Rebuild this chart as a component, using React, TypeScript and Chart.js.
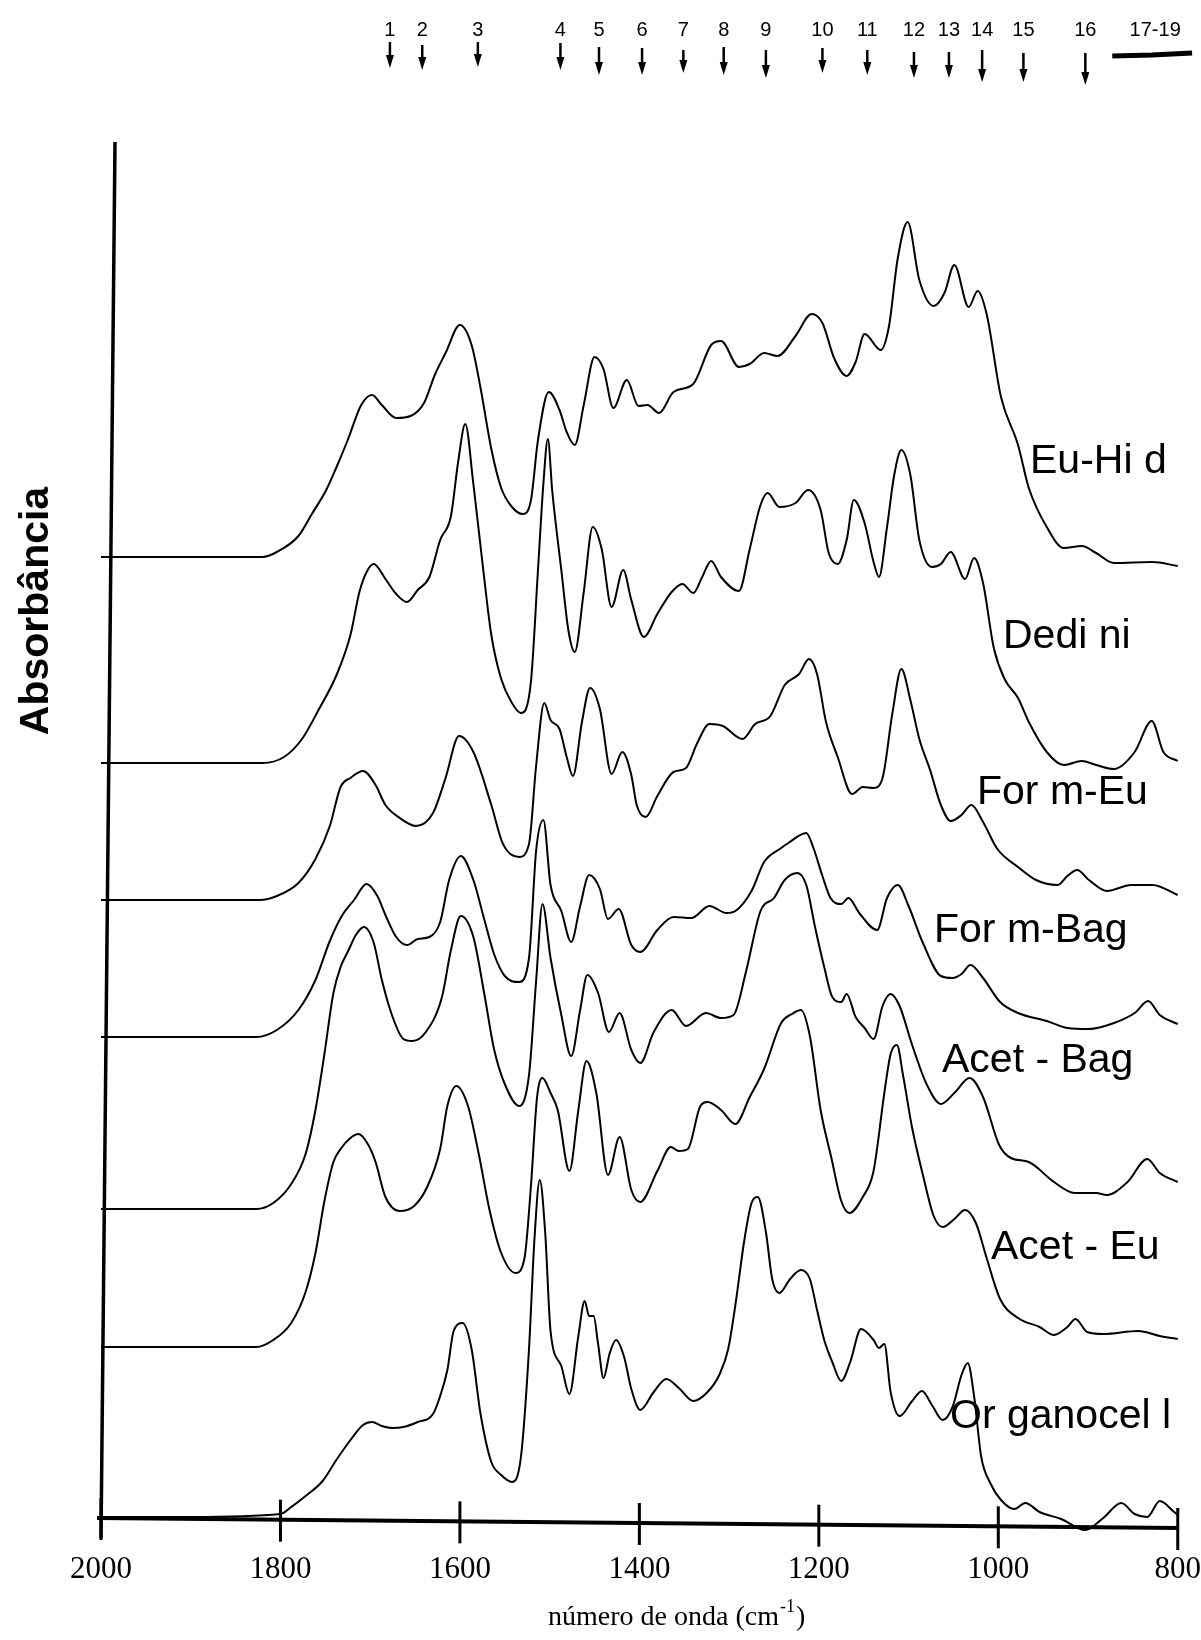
import React, { useEffect, useRef } from 'react';
import { Chart, registerables } from 'chart.js';

Chart.register(...registerables);

type Pt = [number, number];

// ---------- DATA ----------
const seriesNames = ['Eu-Hi d', 'Dedi ni', 'For m-Eu', 'For m-Bag', 'Acet - Bag', 'Acet - Eu', 'Or ganocel l'];
// vertical offsets of each stacked spectrum (absorbance units)
const seriesOffsets = [9.6, 7.54, 6.17, 4.8, 3.08, 1.7, 0];

const euHid: Pt[] = [[2000,0],[1900,0],[1820,0],[1804,0.05],[1780,0.21],[1765,0.43],[1749,0.67],[1737,0.91],[1725,1.17],[1710,1.52],[1698,1.62],[1687,1.52],[1671,1.39],[1655,1.41],[1640,1.54],[1628,1.82],[1616,2.04],[1600,2.32],[1587,2.12],[1577,1.69],[1565,1.08],[1554,0.69],[1542,0.5],[1530,0.43],[1521,0.56],[1513,1.17],[1501,1.65],[1489,1.47],[1481,1.25],[1472,1.12],[1462,1.52],[1450,2.0],[1440,1.88],[1429,1.49],[1414,1.77],[1401,1.51],[1391,1.52],[1378,1.44],[1362,1.65],[1340,1.73],[1320,2.12],[1309,2.16],[1289,1.9],[1277,1.93],[1261,2.04],[1246,2.01],[1226,2.21],[1208,2.43],[1196,2.34],[1183,1.99],[1169,1.81],[1159,1.95],[1149,2.23],[1131,2.07],[1122,2.3],[1112,2.99],[1101,3.35],[1088,2.77],[1072,2.51],[1060,2.64],[1049,2.92],[1033,2.5],[1023,2.66],[1013,2.43],[997,1.6],[978,1.12],[966,0.69],[946,0.3],[927,0.09],[907,0.11],[891,0.04],[871,-0.06],[828,-0.05],[800,-0.09]];

const dedini: Pt[] = [[2000,0],[1900,0],[1820,0],[1796,0.06],[1776,0.24],[1757,0.54],[1737,0.89],[1722,1.28],[1712,1.71],[1704,1.91],[1696,1.99],[1683,1.84],[1671,1.69],[1659,1.61],[1647,1.73],[1634,1.86],[1622,2.23],[1610,2.47],[1602,3.01],[1594,3.39],[1585,2.79],[1575,2.01],[1565,1.28],[1554,0.84],[1542,0.6],[1532,0.5],[1521,0.8],[1513,1.93],[1507,2.79],[1502,3.24],[1497,2.71],[1487,1.93],[1479,1.32],[1472,1.11],[1462,1.71],[1452,2.36],[1442,2.14],[1431,1.56],[1418,1.93],[1409,1.63],[1395,1.26],[1380,1.49],[1364,1.71],[1352,1.79],[1340,1.7],[1330,1.86],[1320,2.02],[1309,1.86],[1289,1.72],[1277,2.14],[1265,2.58],[1257,2.7],[1244,2.56],[1226,2.6],[1212,2.73],[1198,2.53],[1189,2.1],[1179,1.99],[1169,2.23],[1161,2.63],[1149,2.4],[1139,2.01],[1133,1.86],[1124,2.36],[1116,2.88],[1108,3.13],[1098,2.88],[1088,2.23],[1074,1.96],[1064,1.99],[1053,2.11],[1037,1.84],[1027,2.05],[1017,1.8],[1005,1.15],[993,0.84],[978,0.65],[966,0.41],[946,0.11],[927,-0.02],[907,0.02],[891,-0.02],[871,-0.06],[848,0.11],[829,0.42],[816,0.11],[800,0.02]];

const formEu: Pt[] = [[2000,0],[1900,0],[1823,0],[1804,0.04],[1780,0.17],[1761,0.41],[1745,0.74],[1733,1.13],[1722,1.22],[1708,1.29],[1694,1.15],[1683,0.95],[1667,0.82],[1649,0.74],[1630,0.87],[1616,1.22],[1601,1.64],[1585,1.48],[1565,0.95],[1552,0.56],[1534,0.43],[1523,0.56],[1515,1.35],[1506,1.97],[1499,1.8],[1489,1.71],[1481,1.43],[1474,1.24],[1464,1.78],[1455,2.12],[1444,1.91],[1431,1.26],[1419,1.48],[1409,1.25],[1403,0.95],[1393,0.83],[1380,1.04],[1362,1.28],[1348,1.32],[1336,1.56],[1322,1.76],[1307,1.74],[1285,1.61],[1271,1.76],[1254,1.84],[1238,2.15],[1222,2.26],[1211,2.41],[1202,2.26],[1192,1.78],[1179,1.43],[1163,1.06],[1151,1.13],[1139,1.12],[1129,1.22],[1118,1.87],[1108,2.31],[1098,2.0],[1088,1.61],[1076,1.3],[1064,0.95],[1053,0.79],[1041,0.85],[1030,0.95],[1017,0.78],[1001,0.51],[978,0.33],[958,0.2],[934,0.15],[923,0.24],[912,0.3],[899,0.2],[879,0.09],[852,0.15],[828,0.15],[800,0.05]];

const formBag: Pt[] = [[2000,0],[1900,0],[1827,0],[1804,0.07],[1780,0.27],[1761,0.57],[1745,0.96],[1731,1.22],[1718,1.37],[1704,1.53],[1692,1.41],[1683,1.22],[1671,1.0],[1659,0.92],[1647,0.98],[1634,1.0],[1622,1.15],[1612,1.57],[1599,1.81],[1585,1.57],[1573,1.18],[1562,0.83],[1550,0.61],[1534,0.55],[1523,0.79],[1515,1.87],[1507,2.17],[1499,1.52],[1487,1.26],[1476,0.95],[1466,1.31],[1456,1.62],[1444,1.48],[1435,1.18],[1423,1.28],[1409,0.92],[1399,0.85],[1380,1.07],[1362,1.2],[1342,1.19],[1322,1.31],[1303,1.24],[1293,1.26],[1275,1.46],[1261,1.75],[1242,1.89],[1234,1.94],[1214,2.04],[1206,1.89],[1196,1.61],[1187,1.39],[1175,1.33],[1167,1.39],[1155,1.24],[1135,1.07],[1124,1.39],[1112,1.52],[1100,1.31],[1084,0.94],[1064,0.61],[1051,0.59],[1041,0.63],[1031,0.72],[1017,0.59],[998,0.35],[978,0.24],[946,0.16],[923,0.09],[899,0.08],[871,0.14],[848,0.24],[833,0.36],[820,0.22],[800,0.13]];

const acetBag: Pt[] = [[2000,0],[1900,0],[1827,0],[1808,0.06],[1788,0.25],[1772,0.55],[1761,0.99],[1751,1.55],[1741,2.16],[1733,2.42],[1724,2.59],[1716,2.74],[1707,2.82],[1696,2.66],[1687,2.29],[1675,1.92],[1663,1.7],[1653,1.68],[1638,1.77],[1620,2.12],[1610,2.59],[1599,2.93],[1585,2.72],[1573,2.16],[1562,1.6],[1550,1.25],[1534,1.03],[1523,1.34],[1515,2.29],[1508,3.05],[1499,2.51],[1487,1.94],[1476,1.53],[1466,1.99],[1458,2.34],[1446,2.16],[1434,1.77],[1422,1.96],[1409,1.59],[1399,1.46],[1384,1.77],[1364,1.99],[1348,1.83],[1326,1.96],[1309,1.91],[1295,1.94],[1281,2.38],[1265,2.98],[1250,3.11],[1238,3.29],[1224,3.36],[1214,3.24],[1204,2.81],[1194,2.42],[1185,2.12],[1175,2.07],[1169,2.15],[1159,1.92],[1149,1.81],[1139,1.7],[1129,2.03],[1120,2.15],[1110,2.03],[1096,1.64],[1080,1.25],[1064,1.05],[1049,1.16],[1032,1.31],[1017,1.12],[999,0.64],[986,0.51],[966,0.47],[938,0.27],[915,0.16],[891,0.16],[879,0.14],[856,0.27],[834,0.5],[820,0.36],[800,0.27]];

const acetEu: Pt[] = [[2000,0],[1900,0],[1827,0],[1808,0.07],[1788,0.24],[1772,0.55],[1761,0.94],[1751,1.46],[1741,1.85],[1733,1.98],[1722,2.09],[1713,2.13],[1702,2.02],[1694,1.85],[1683,1.5],[1667,1.36],[1651,1.41],[1636,1.61],[1622,1.98],[1614,2.41],[1604,2.61],[1591,2.41],[1579,1.93],[1567,1.37],[1554,0.94],[1538,0.74],[1528,0.89],[1521,1.59],[1514,2.5],[1508,2.69],[1499,2.54],[1491,2.37],[1478,1.76],[1468,2.37],[1459,2.86],[1448,2.54],[1435,1.72],[1422,2.1],[1409,1.57],[1399,1.45],[1380,1.76],[1365,2.0],[1356,1.96],[1346,1.98],[1332,2.41],[1324,2.45],[1309,2.37],[1293,2.23],[1277,2.5],[1261,2.78],[1242,3.24],[1230,3.33],[1220,3.37],[1210,3.11],[1198,2.37],[1186,1.89],[1175,1.46],[1166,1.34],[1151,1.5],[1139,1.76],[1127,2.54],[1120,2.93],[1113,3.02],[1106,2.71],[1096,2.19],[1084,1.72],[1072,1.31],[1062,1.2],[1049,1.28],[1037,1.37],[1025,1.24],[1013,0.89],[998,0.48],[978,0.29],[954,0.2],[938,0.12],[923,0.2],[914,0.28],[901,0.15],[883,0.13],[844,0.16],[820,0.11],[800,0.08]];

const organocell: Pt[] = [[2000,0],[1900,0],[1800,0.03],[1788,0.1],[1772,0.21],[1753,0.36],[1737,0.58],[1722,0.77],[1708,0.92],[1698,0.95],[1687,0.91],[1675,0.89],[1663,0.9],[1647,0.95],[1630,1.03],[1622,1.21],[1614,1.47],[1607,1.86],[1597,1.94],[1587,1.68],[1577,1.03],[1565,0.55],[1554,0.42],[1542,0.35],[1532,0.6],[1523,1.68],[1517,2.77],[1511,3.37],[1505,2.85],[1499,1.86],[1487,1.51],[1478,1.23],[1468,1.81],[1461,2.16],[1456,2.01],[1451,2.01],[1446,1.73],[1440,1.39],[1433,1.64],[1426,1.77],[1417,1.6],[1409,1.28],[1399,1.07],[1384,1.25],[1370,1.38],[1356,1.29],[1340,1.16],[1324,1.25],[1311,1.42],[1301,1.68],[1293,2.12],[1283,2.77],[1275,3.14],[1268,3.2],[1259,2.85],[1252,2.38],[1244,2.24],[1232,2.38],[1220,2.47],[1210,2.38],[1202,2.07],[1194,1.77],[1185,1.55],[1175,1.36],[1165,1.55],[1153,1.88],[1139,1.77],[1133,1.69],[1127,1.73],[1120,1.25],[1110,1.01],[1096,1.16],[1085,1.26],[1074,1.12],[1062,0.97],[1051,1.1],[1041,1.42],[1034,1.54],[1027,1.21],[1019,0.6],[1009,0.34],[997,0.17],[982,0.08],[970,0.14],[954,0.05],[930,-0.02],[903,-0.13],[883,-0.01],[863,0.14],[848,0.03],[834,0.0],[820,0.16],[804,0.05],[800,0.02]];

const allSeries: Pt[][] = [euHid, dedini, formEu, formBag, acetBag, acetEu, organocell];

// x axis
const xMin = 800;
const xMax = 2000;
const xStep = 200;
const xTickValues = [2000, 1800, 1600, 1400, 1200, 1000, 800];

// band markers at the top (cm-1)
const bandPositions = [1678, 1642, 1580, 1488, 1445, 1397, 1351, 1306, 1259, 1196, 1146, 1094, 1055, 1018, 972, 903];
const bandLabels = ['1', '2', '3', '4', '5', '6', '7', '8', '9', '10', '11', '12', '13', '14', '15', '16'];
const bandRange = [873, 784];
const bandRangeLabel = '17-19';

// ---------- LAYOUT / STYLE ----------
const W = 1201;
const H = 1640;
const AREA_BOTTOM = 1517;
const Y_MAX = AREA_BOTTOM / 100;
const labelPlacement: Array<[number, number]> = [
  [1030, 473], [1003, 648], [977, 804], [934, 942], [942, 1072], [991, 1259], [950, 1428],
];
const arrowTop = [42, 45, 42, 43, 47, 48, 50, 47, 50, 48, 50, 52, 52, 50, 53, 53];
const arrowBottom = [68, 70, 67, 70, 75, 75, 73, 75, 78, 73, 75, 78, 78, 82, 82, 85];
const SANS = "'Liberation Sans', Arial, Helvetica, sans-serif";
const SERIF = "'Liberation Serif', 'Times New Roman', serif";

const axisValueAt = (w: number) => -0.01 - ((xMax - w) / (xMax - xMin)) * 0.1;

const decorPlugin = {
  id: 'decor',
  afterDatasetsDraw(chart: any) {
    const { ctx } = chart;
    const xs = chart.scales.x;
    const ys = chart.scales.y;
    const px = (w: number) => xs.getPixelForValue(w);
    const py = (v: number) => ys.getPixelForValue(v);
    ctx.save();
    ctx.strokeStyle = '#000';
    ctx.fillStyle = '#000';
    ctx.lineCap = 'butt';

    // x axis line
    ctx.lineWidth = 4;
    ctx.beginPath();
    ctx.moveTo(px(xMax) - 4, py(axisValueAt(xMax)));
    ctx.lineTo(px(xMin) + 1, py(axisValueAt(xMin)));
    ctx.stroke();
    // ticks crossing the axis
    ctx.lineWidth = 3;
    xTickValues.forEach((t) => {
      const x = px(t);
      const y = py(axisValueAt(t));
      ctx.beginPath();
      ctx.moveTo(x, y - 20);
      ctx.lineTo(x, y + 22);
      ctx.stroke();
    });
    // y axis line (slightly tilted like the scan)
    ctx.lineWidth = 3.5;
    ctx.beginPath();
    ctx.moveTo(px(xMax), py(-0.21));
    ctx.lineTo(px(xMax) + 14, py(13.75));
    ctx.stroke();

    // spectrum labels
    ctx.font = `41px ${SANS}`;
    ctx.textAlign = 'left';
    ctx.textBaseline = 'alphabetic';
    seriesNames.forEach((n, i) => {
      const [lx, ly] = labelPlacement[i];
      ctx.fillText(n, lx, ly);
    });

    // y title
    ctx.save();
    ctx.translate(48, 611);
    ctx.rotate(-Math.PI / 2);
    ctx.font = `bold 41px ${SANS}`;
    ctx.textAlign = 'center';
    ctx.textBaseline = 'alphabetic';
    ctx.fillText('Absorbância', 0, 0);
    ctx.restore();

    // x title with superscript
    ctx.textAlign = 'left';
    ctx.textBaseline = 'alphabetic';
    let tx = 548;
    ctx.font = `28px ${SERIF}`;
    const main = 'número de onda (cm';
    ctx.fillText(main, tx, 1625);
    tx += ctx.measureText(main).width + 1;
    ctx.font = `18px ${SERIF}`;
    ctx.fillText('-1', tx, 1612);
    tx += ctx.measureText('-1').width + 1;
    ctx.font = `28px ${SERIF}`;
    ctx.fillText(')', tx, 1625);

    // band arrows
    ctx.font = `20px ${SANS}`;
    ctx.textAlign = 'center';
    ctx.textBaseline = 'middle';
    bandPositions.forEach((b, i) => {
      const x = px(b);
      ctx.fillText(bandLabels[i], x, 30);
      const top = arrowTop[i];
      const bot = arrowBottom[i];
      ctx.lineWidth = 2.5;
      ctx.beginPath();
      ctx.moveTo(x, top);
      ctx.lineTo(x, bot - 8);
      ctx.stroke();
      ctx.beginPath();
      ctx.moveTo(x - 4, bot - 13);
      ctx.lineTo(x + 4, bot - 13);
      ctx.lineTo(x, bot);
      ctx.closePath();
      ctx.fill();
    });
    const r0 = px(bandRange[0]);
    const r1 = px(bandRange[1]);
    ctx.fillText(bandRangeLabel, (r0 + r1) / 2 + 3, 30);
    ctx.lineWidth = 5;
    ctx.beginPath();
    ctx.moveTo(r0, 56);
    ctx.lineTo((r0 + r1) / 2, 55);
    ctx.lineTo(r1, 53);
    ctx.stroke();

    ctx.restore();
  },
};

export default function App() {
  const ref = useRef<HTMLCanvasElement | null>(null);

  useEffect(() => {
    document.documentElement.style.overflow = 'hidden';
    const canvas = ref.current;
    if (!canvas) return;
    const datasets = allSeries.map((s, i) => ({
      label: seriesNames[i],
      data: s.map(([x, a]) => ({ x, y: a + seriesOffsets[i] })),
      borderColor: '#000',
      borderWidth: 2,
      pointRadius: 0,
      fill: false,
      cubicInterpolationMode: 'monotone' as const,
      clip: false as any,
    }));
    const chart = new Chart(canvas, {
      type: 'line',
      data: { datasets },
      plugins: [decorPlugin as any],
      options: {
        animation: false,
        responsive: false,
        devicePixelRatio: 1,
        events: [],
        layout: { padding: { left: 101, right: 23, top: 0, bottom: 0 } },
        plugins: {
          legend: { display: false },
          tooltip: { enabled: false },
          title: { display: false },
        },
        scales: {
          x: {
            type: 'linear',
            position: 'bottom',
            min: xMin,
            max: xMax,
            reverse: true,
            afterFit: (s: any) => {
              s.height = H - AREA_BOTTOM;
            },
            grid: { display: false, drawTicks: true, tickLength: 34 },
            border: { display: false },
            ticks: {
              stepSize: xStep,
              padding: 0,
              color: '#000',
              autoSkip: false,
              maxRotation: 0,
              font: { family: SERIF, size: 31 },
              callback: (v: any) => String(v),
            },
          },
          y: {
            type: 'linear',
            display: false,
            min: 0,
            max: Y_MAX,
          },
        },
      },
    });
    return () => chart.destroy();
  }, []);

  return (
    <div style={{ position: 'absolute', left: 0, top: 0, width: W, height: H, background: '#fff' }}>
      <canvas ref={ref} width={W} height={H} style={{ display: 'block', width: W, height: H }} />
    </div>
  );
}
